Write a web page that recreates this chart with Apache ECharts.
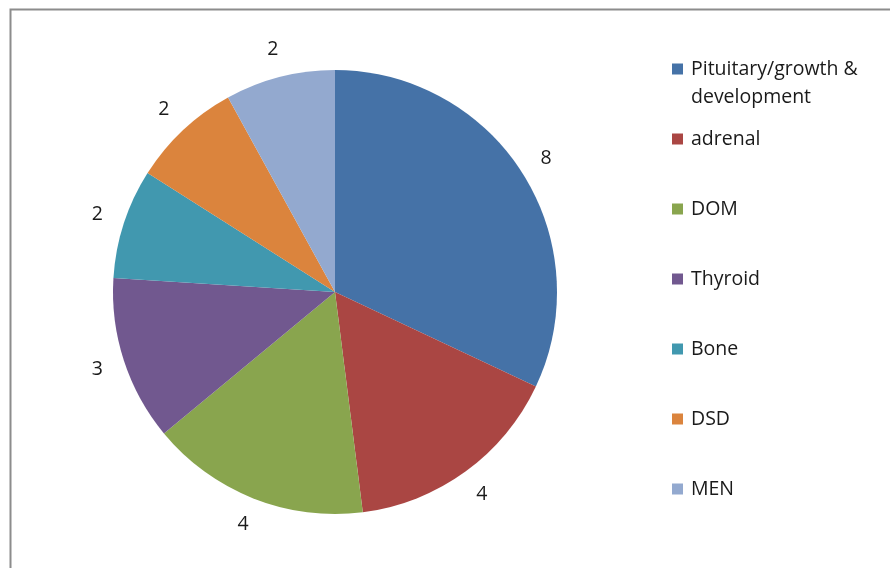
<!DOCTYPE html>
<html>
<head>
<meta charset="utf-8">
<script src="https://cdn.jsdelivr.net/npm/echarts@6/dist/echarts.min.js"></script>
<style>
  html, body { margin: 0; padding: 0; background: #fff; }
  #chart { width: 890px; height: 568px; }
</style>
</head>
<body>
<div id="chart"></div>
<script>
// Clinic referral categories and counts
const categories = ['Pituitary/growth & development', 'adrenal', 'DOM', 'Thyroid', 'Bone', 'DSD', 'MEN'];
const counts = [8, 4, 4, 3, 2, 2, 2];
const sliceColors = ['#4572A7', '#AA4643', '#89A54E', '#71588F', '#4198AF', '#DB843D', '#93A9CF'];

const FONT = 'Open Sans';
const FONT_SIZE = 19.5;
const CX = 335, CY = 292, R = 222;
const LABEL_R = 247;

const pieData = categories.map((name, i) => ({
  name: name,
  value: counts[i],
  itemStyle: { color: sliceColors[i] }
}));

// Transparent ring outside the pie that only carries the value labels
const labelRing = categories.map((name, i) => ({
  name: name,
  value: counts[i],
  itemStyle: { color: 'rgba(0,0,0,0)' }
}));

const legendText = {
  fontFamily: FONT,
  fontSize: FONT_SIZE,
  color: '#1a1a1a',
  lineHeight: 28,
  rich: { g: { width: 3 } }
};

const chart = echarts.init(document.getElementById('chart'), null, { renderer: 'canvas' });

chart.setOption({
  backgroundColor: '#ffffff',
  animation: false,
  graphic: [{
    type: 'rect',
    shape: { x: 10.5, y: 9.5, width: 900, height: 600 },
    style: { fill: 'none', stroke: '#8c8c8c', lineWidth: 2 },
    silent: true,
    z: -1
  }],
  legend: [{
    // first entry wraps onto two lines; a blank leading line keeps its first line level with the marker
    orient: 'vertical',
    left: 672,
    top: 69 - 42,
    padding: 0,
    itemWidth: 11,
    itemHeight: 11,
    icon: 'rect',
    selectedMode: false,
    data: [categories[0]],
    formatter: () => '{g|}\n{g|}Pituitary/growth &\n{g|}development',
    textStyle: legendText
  }, {
    orient: 'vertical',
    left: 672,
    top: 139 - 14,
    padding: 0,
    itemGap: 42,
    itemWidth: 11,
    itemHeight: 11,
    icon: 'rect',
    selectedMode: false,
    data: categories.slice(1),
    formatter: name => '{g|}' + name,
    textStyle: legendText
  }],
  series: [{
    type: 'pie',
    center: [CX, CY],
    radius: [0, R],
    startAngle: 90,
    clockwise: true,
    silent: true,
    data: pieData,
    label: { show: false },
    labelLine: { show: false },
    itemStyle: { borderWidth: 0 }
  }, {
    type: 'pie',
    center: [CX, CY],
    radius: [R + 1, 2 * LABEL_R - R - 1],
    startAngle: 90,
    clockwise: true,
    silent: true,
    legendHoverLink: false,
    data: labelRing,
    label: {
      show: true,
      position: 'inside',
      formatter: '{c}',
      fontFamily: FONT,
      fontSize: FONT_SIZE,
      color: '#1a1a1a'
    },
    labelLine: { show: false },
    itemStyle: { borderWidth: 0 }
  }]
});
</script>
</body>
</html>
